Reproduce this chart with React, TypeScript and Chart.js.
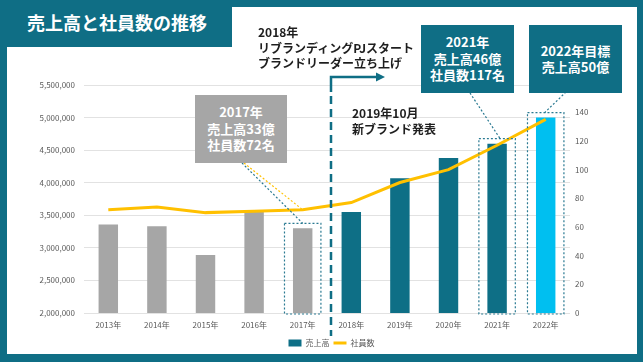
import React, { useEffect, useRef } from 'react';
import { Chart, registerables } from 'chart.js';

Chart.register(...registerables);

// ---------- data ----------
const years = ['2013年', '2014年', '2015年', '2016年', '2017年', '2018年', '2019年', '2020年', '2021年', '2022年'];
const salesValues = [3360000, 3330000, 2890000, 3560000, 3300000, 3550000, 4070000, 4380000, 4600000, 5000000];
const employeeValues = [72, 74, 70, 71, 72, 77, 91, 100, 117, 135];
const salesAxisMin = 2000000;
const salesAxisMax = 5500000;
const salesAxisStep = 500000;
const employeeAxisMin = 0;
const employeeAxisMax = 159;
const employeeAxisStep = 20;
const highlightedYears = ['2017年', '2021年', '2022年'];
const salesLabel = '売上高';
const employeeLabel = '社員数';

// ---------- styles ----------
const TEAL = '#0f6e85';
const BAR_TEAL = '#0e6f86';
const GRAY = '#a6a6a6';
const CYAN = '#00bff0';
const GOLD = '#ffc000';
const DOT_TEAL = '#2a7a92';
const TICK = '#595959';
const FONT = '"Noto Sans CJK JP", "Noto Sans", sans-serif';
const barColors = [GRAY, GRAY, GRAY, GRAY, GRAY, BAR_TEAL, BAR_TEAL, BAR_TEAL, BAR_TEAL, CYAN];

const annotationPlugin = {
  id: 'annotationPlugin',
  afterDatasetsDraw(chart: any) {
    const { ctx, scales } = chart;
    const xs = scales.x;
    const ys = scales.y;
    const barMeta = chart.getDatasetMeta(0);
    const lineMeta = chart.getDatasetMeta(1);
    const baseY = ys.getPixelForValue(salesAxisMin);
    ctx.save();

    // dotted highlight rectangles
    ctx.setLineDash([2, 2]);
    ctx.lineWidth = 1.2;
    ctx.strokeStyle = DOT_TEAL;
    const rects: Record<string, { cx: number; top: number }> = {};
    highlightedYears.forEach((yr) => {
      const i = years.indexOf(yr);
      const bar = barMeta.data[i];
      const half = bar.width / 2 + 8.5;
      const top = bar.y - 5;
      rects[yr] = { cx: bar.x, top };
      ctx.strokeRect(bar.x - half, top, half * 2, baseY + 1 - top);
    });

    // connectors from callout boxes
    const i2017 = years.indexOf('2017年');
    const pt2017 = lineMeta.data[i2017];
    ctx.strokeStyle = GOLD;
    ctx.lineWidth = 1.2;
    ctx.beginPath();
    ctx.moveTo(244, 163);
    ctx.lineTo(pt2017.x, pt2017.y);
    ctx.stroke();

    ctx.strokeStyle = DOT_TEAL;
    const connectors: [number, number, string, number][] = [
      [242, 163, '2017年', 0],
      [470, 93, '2021年', 3],
      [566, 92, '2022年', -1],
    ];
    connectors.forEach(([fx, fy, yr, dx]) => {
      const r = rects[yr];
      ctx.beginPath();
      ctx.moveTo(fx, fy);
      ctx.lineTo(r.cx + dx, r.top);
      ctx.stroke();
    });

    // divider between 2017 and 2018 with arrow
    const divX = (xs.getPixelForValue(4) + xs.getPixelForValue(5)) / 2 + 4;
    ctx.strokeStyle = TEAL;
    ctx.lineWidth = 2.5;
    ctx.setLineDash([8, 5]);
    ctx.beginPath();
    ctx.moveTo(divX, 96);
    ctx.lineTo(divX, 336);
    ctx.stroke();
    ctx.setLineDash([]);
    ctx.beginPath();
    ctx.moveTo(divX, 92);
    ctx.lineTo(divX, 77);
    ctx.lineTo(divX + 47, 77);
    ctx.stroke();
    ctx.fillStyle = TEAL;
    ctx.beginPath();
    ctx.moveTo(divX + 54, 77);
    ctx.lineTo(divX + 45, 72.5);
    ctx.lineTo(divX + 45, 81.5);
    ctx.closePath();
    ctx.fill();
    ctx.restore();
  },
};

const boxText: React.CSSProperties = {
  position: 'absolute',
  color: '#ffffff',
  fontWeight: 700,
  fontSize: 13,
  lineHeight: '16.5px',
  display: 'flex',
  flexDirection: 'column',
  alignItems: 'center',
  justifyContent: 'center',
  textAlign: 'center',
  whiteSpace: 'nowrap',
};

const noteText: React.CSSProperties = {
  position: 'absolute',
  color: '#1e1e1e',
  fontWeight: 700,
  fontSize: 12,
  lineHeight: '15.5px',
  whiteSpace: 'nowrap',
};

export default function App() {
  const canvasRef = useRef<HTMLCanvasElement | null>(null);

  useEffect(() => {
    if (!canvasRef.current) return;
    Chart.defaults.font.family = FONT;
    const chart = new Chart(canvasRef.current, {
      type: 'bar',
      data: {
        labels: years,
        datasets: [
          {
            type: 'bar',
            label: salesLabel,
            data: salesValues,
            backgroundColor: barColors,
            borderWidth: 0,
            barPercentage: 0.4,
            categoryPercentage: 1,
            yAxisID: 'y',
            order: 1,
          },
          {
            type: 'line',
            label: employeeLabel,
            data: employeeValues,
            borderColor: GOLD,
            backgroundColor: GOLD,
            borderWidth: 3,
            pointRadius: 0,
            tension: 0,
            yAxisID: 'y1',
            order: 0,
          },
        ] as any,
      },
      options: {
        animation: false,
        responsive: false,
        maintainAspectRatio: false,
        layout: { padding: { left: 20, right: 0, top: 85, bottom: 5 } },
        plugins: {
          legend: {
            position: 'bottom',
            labels: {
              font: { size: 8, family: FONT },
              color: TICK,
              usePointStyle: true,
              pointStyleWidth: 13,
              boxHeight: 7,
              padding: 4,
              sort: (a: any, b: any) => a.datasetIndex - b.datasetIndex,
              generateLabels: (c: any) => {
                const items = (Chart.defaults.plugins.legend.labels as any).generateLabels(c);
                return items.map((it: any) =>
                  it.datasetIndex === 0
                    ? { ...it, fillStyle: BAR_TEAL, strokeStyle: BAR_TEAL, lineWidth: 0, pointStyle: 'rect' }
                    : { ...it, fillStyle: GOLD, strokeStyle: GOLD, lineWidth: 3, pointStyle: 'line' }
                );
              },
            },
          },
          tooltip: { enabled: false },
        },
        scales: {
          x: {
            grid: { display: false, drawTicks: false },
            border: { display: false },
            ticks: { font: { size: 8, family: FONT }, color: TICK, padding: 7, maxRotation: 0, autoSkip: false },
            afterFit: (s: any) => {
              s.height = 22;
            },
          },
          y: {
            position: 'left',
            min: salesAxisMin,
            max: salesAxisMax,
            ticks: {
              stepSize: salesAxisStep,
              font: { size: 8, family: FONT },
              color: TICK,
              padding: 9,
              callback: (v: any) => Number(v).toLocaleString('en-US'),
            },
            grid: { color: '#e2e2e2', drawTicks: false },
            border: { display: false },
            afterFit: (s: any) => {
              s.width = 64;
            },
          },
          y1: {
            position: 'right',
            min: employeeAxisMin,
            max: employeeAxisMax,
            ticks: {
              stepSize: employeeAxisStep,
              font: { size: 8, family: FONT },
              color: TICK,
              padding: 5,
            },
            grid: { display: false, drawTicks: false },
            border: { display: false },
            afterBuildTicks: (s: any) => {
              s.ticks = s.ticks.filter((t: any) => t.value % employeeAxisStep === 0);
            },
            afterFit: (s: any) => {
              s.width = 73;
            },
          },
        },
      } as any,
      plugins: [annotationPlugin],
    });
    return () => chart.destroy();
  }, []);

  return (
    <div
      style={{
        position: 'fixed',
        left: 0,
        top: 0,
        width: 643,
        height: 362,
        background: TEAL,
        overflow: 'hidden',
        fontFamily: FONT,
      }}
    >
      <div style={{ position: 'absolute', left: 7, top: 7, width: 630, height: 347, background: '#ffffff' }} />
      <canvas
        ref={canvasRef}
        width={643}
        height={362}
        style={{ position: 'absolute', left: 0, top: 0, width: 643, height: 362 }}
      />
      <div
        style={{
          position: 'absolute',
          left: 0,
          top: 0,
          width: 232,
          height: 47,
          background: TEAL,
          color: '#ffffff',
          fontWeight: 700,
          fontSize: 18,
          lineHeight: '44px',
          paddingLeft: 27,
          boxSizing: 'border-box',
          whiteSpace: 'nowrap',
        }}
      >
        売上高と社員数の推移
      </div>
      <div style={{ ...noteText, left: 258, top: 24 }}>
        <div>2018年</div>
        <div>リブランディングPJスタート</div>
        <div>ブランドリーダー立ち上げ</div>
      </div>
      <div style={{ ...noteText, left: 352, top: 105 }}>
        <div>2019年10月</div>
        <div>新ブランド発表</div>
      </div>
      <div style={{ ...boxText, left: 195, top: 95, width: 92, height: 68, background: GRAY }}>
        <div>2017年</div>
        <div>売上高33億</div>
        <div>社員数72名</div>
      </div>
      <div style={{ ...boxText, left: 421, top: 25, width: 93, height: 68, background: TEAL }}>
        <div>2021年</div>
        <div>売上高46億</div>
        <div>社員数117名</div>
      </div>
      <div style={{ ...boxText, left: 529, top: 25, width: 93, height: 68, background: TEAL }}>
        <div>2022年目標</div>
        <div>売上高50億</div>
      </div>
    </div>
  );
}
